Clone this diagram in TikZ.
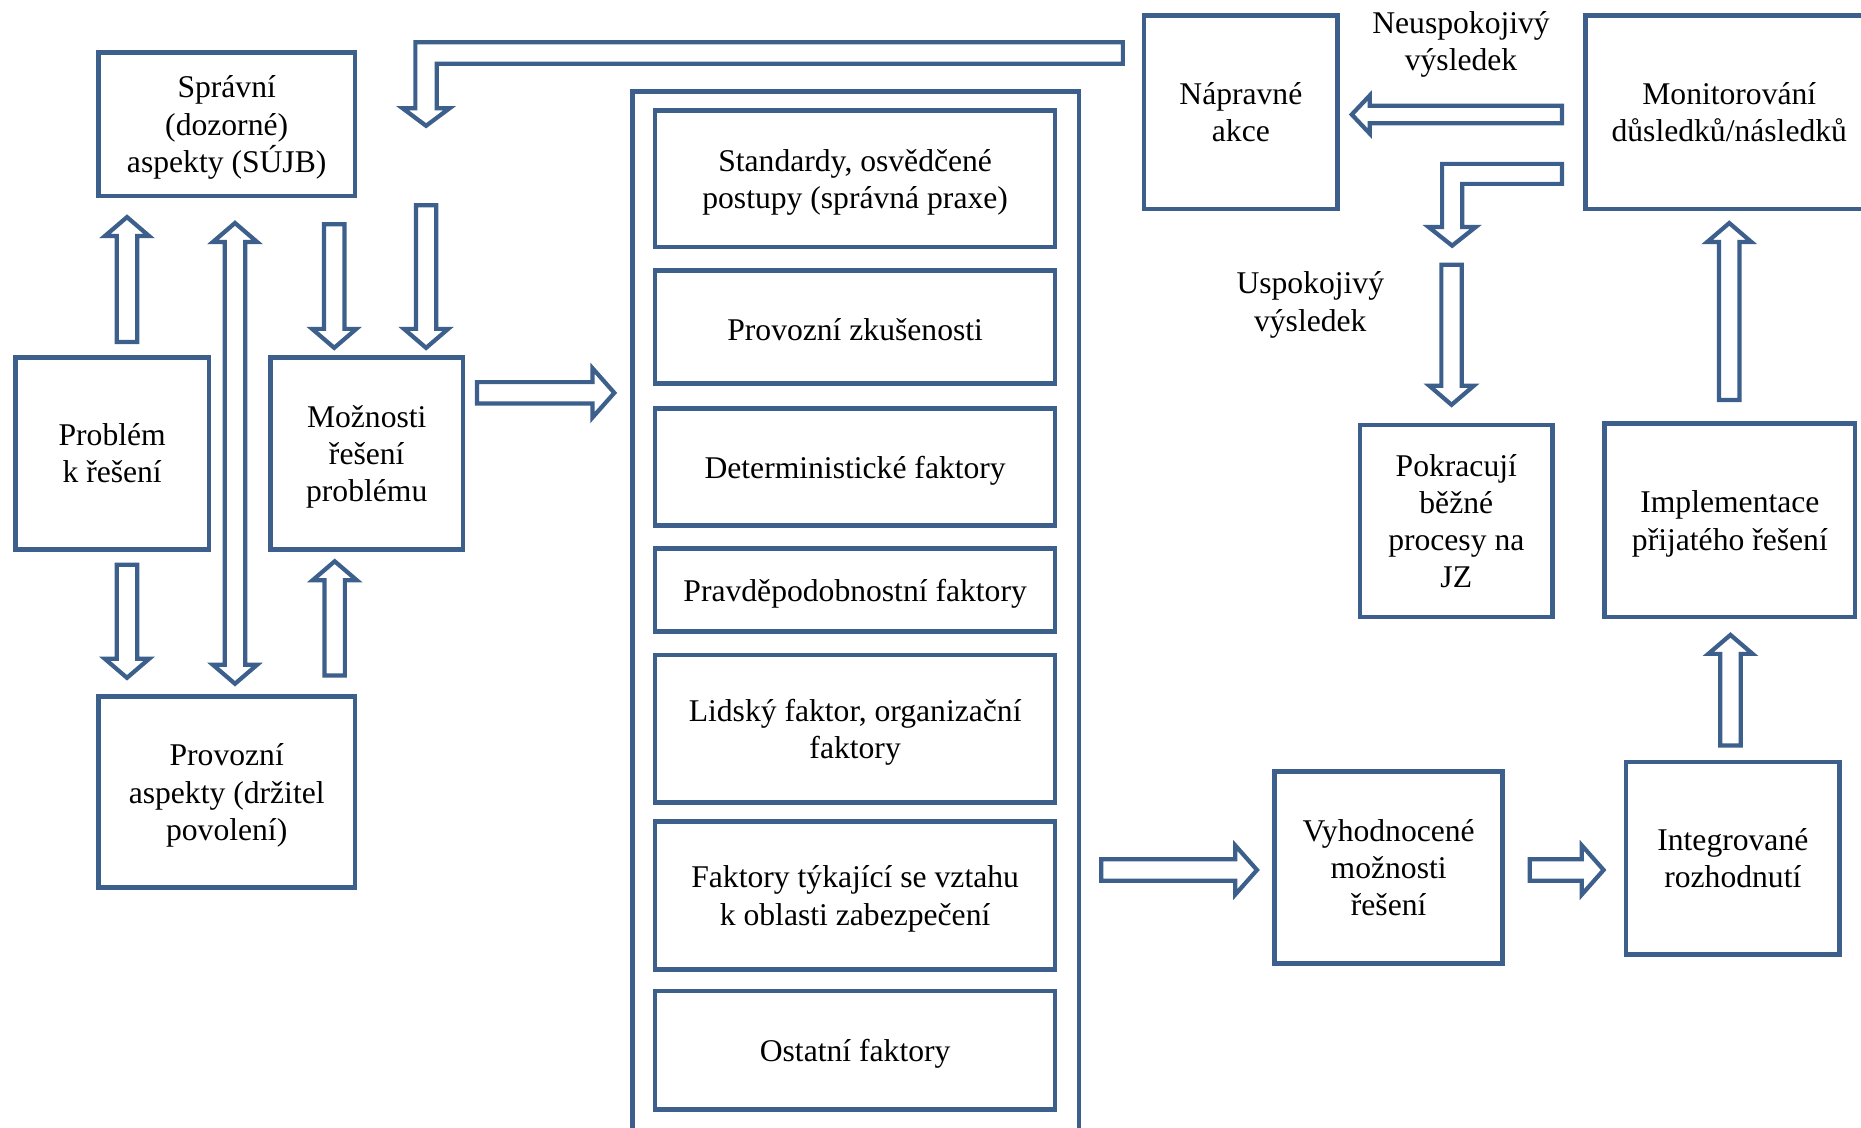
\documentclass[tikz,border=0pt]{standalone}
\usepackage{fontspec}
\setmainfont{Liberation Serif}
\usetikzlibrary{calc,positioning}
\definecolor{frame}{RGB}{60,95,140}
\tikzset{box/.style={draw=frame,line width=1.3pt,align=center,inner sep=0pt,font=\fontsize{9}{10.6}\selectfont},
	note/.style={align=center,inner sep=0pt,font=\fontsize{9}{10.6}\selectfont},
	low text/.style={text depth=0pt},
	arrow shaft/.store in=\ashaft, arrow head/.store in=\ahead, arrow len/.store in=\alen,
	arrow shaft=2.9pt, arrow head=6.3pt, arrow len=5.4pt,
	wide/.style={arrow shaft=3.05pt,arrow head=7pt,arrow len=6.2pt},
	slim/.style={arrow shaft=2.5pt,arrow head=5.4pt,arrow len=5.1pt},
	blk/.style={draw=frame,line width=1.2pt,fill=white,to path={
		let \p1=(\tikztostart), \p2=(\tikztotarget),
		\n1={veclen(\x2-\x1,\y2-\y1)}, \n2={(\x2-\x1)/\n1}, \n3={(\y2-\y1)/\n1} in
		({\x1-(\n3)*\ashaft},{\y1+(\n2)*\ashaft})
		-- ({\x2-(\n2)*\alen-(\n3)*\ashaft},{\y2-(\n3)*\alen+(\n2)*\ashaft})
		-- ({\x2-(\n2)*\alen-(\n3)*\ahead},{\y2-(\n3)*\alen+(\n2)*\ahead})
		-- (\p2)
		-- ({\x2-(\n2)*\alen+(\n3)*\ahead},{\y2-(\n3)*\alen-(\n2)*\ahead})
		-- ({\x2-(\n2)*\alen+(\n3)*\ashaft},{\y2-(\n3)*\alen-(\n2)*\ashaft})
		-- ({\x1+(\n3)*\ashaft},{\y1-(\n2)*\ashaft}) -- cycle}},
	blk2/.style={draw=frame,line width=1.2pt,fill=white,to path={
		let \p1=(\tikztostart), \p2=(\tikztotarget),
		\n1={veclen(\x2-\x1,\y2-\y1)}, \n2={(\x2-\x1)/\n1}, \n3={(\y2-\y1)/\n1} in
		(\p1)
		-- ({\x1+(\n2)*\alen-(\n3)*\ahead},{\y1+(\n3)*\alen+(\n2)*\ahead})
		-- ({\x1+(\n2)*\alen-(\n3)*\ashaft},{\y1+(\n3)*\alen+(\n2)*\ashaft})
		-- ({\x2-(\n2)*\alen-(\n3)*\ashaft},{\y2-(\n3)*\alen+(\n2)*\ashaft})
		-- ({\x2-(\n2)*\alen-(\n3)*\ahead},{\y2-(\n3)*\alen+(\n2)*\ahead})
		-- (\p2)
		-- ({\x2-(\n2)*\alen+(\n3)*\ahead},{\y2-(\n3)*\alen-(\n2)*\ahead})
		-- ({\x2-(\n2)*\alen+(\n3)*\ashaft},{\y2-(\n3)*\alen-(\n2)*\ashaft})
		-- ({\x1+(\n2)*\alen+(\n3)*\ashaft},{\y1+(\n3)*\alen-(\n2)*\ashaft})
		-- ({\x1+(\n2)*\alen+(\n3)*\ahead},{\y1+(\n3)*\alen-(\n2)*\ahead}) -- cycle}},
	blkbend/.style={draw=frame,line width=1.2pt,fill=white,to path={
		let \p1=(\tikztostart), \p2=(\tikztotarget) in
		(\x1,{\y1+\ashaft}) -- ({\x2-\ashaft},{\y1+\ashaft}) -- ({\x2-\ashaft},{\y2+\alen})
		-- ({\x2-\ahead},{\y2+\alen}) -- (\p2) -- ({\x2+\ahead},{\y2+\alen})
		-- ({\x2+\ashaft},{\y2+\alen}) -- ({\x2+\ashaft},{\y1-\ashaft}) -- (\x1,{\y1-\ashaft}) -- cycle}},
}
\begin{document}
\begin{tikzpicture}[x=0.011869cm,y=-0.011869cm]
	\useasboundingbox (0,0) rectangle (1568,950);
	\clip (0,0) rectangle (1568,950);
	
	% left part
	\node[box,low text,minimum width=2.564cm,minimum height=1.436cm] (spr) at (191,104.5) {Správní\\(dozorné)\\aspekty (SÚJB)};
	\node[box,minimum width=1.935cm,minimum height=1.923cm] (prob) at (94.5,382) {Problém\\k řešení};
	\node[box,low text,minimum width=1.923cm,minimum height=1.923cm] (mozn) at (309,382) {Možnosti\\řešení\\problému};
	\node[box,low text,minimum width=2.564cm,minimum height=1.911cm] (prov) at (191,667.5) {Provozní\\aspekty (držitel\\povolení)};
	
	% factors
	\node[box,minimum width=4.463cm,minimum height=10.599cm] (cont) at (721,523.5) {};
	\node[box,low text,minimum width=4cm,minimum height=1.365cm] (f1) at (720.5,150.5) {Standardy, osvědčené\\postupy (správná praxe)};
	\node[box,text height=7.5pt,minimum width=4cm,minimum height=1.128cm] (f2) at (720.5,275.5) {Provozní zkušenosti};
	\node[box,low text,minimum width=4cm,minimum height=1.175cm] (f3) at (720.5,393.5) {Deterministické faktory};
	\node[box,low text,minimum width=4cm,minimum height=0.831cm] (f4) at (720.5,497) {Pravděpodobnostní faktory};
	\node[box,low text,minimum width=4cm,minimum height=1.472cm] (f5) at (720.5,614) {Lidský faktor, organizační\\faktory};
	\node[box,low text,minimum width=4cm,minimum height=1.484cm] (f6) at (720.5,754.5) {Faktory týkající se vztahu\\k oblasti zabezpečení};
	\node[box,low text,minimum width=4cm,minimum height=1.187cm] (f7) at (720.5,885) {Ostatní faktory};
	
	% right part
	\node[box,minimum width=1.935cm,minimum height=1.935cm] (naprav) at (1045.5,94.5) {Nápravné\\akce};
	\node[box,minimum width=2.872cm,minimum height=1.935cm] (monit) at (1457,94.5) {Monitorování\\důsledků/následků};
	\node[box,minimum width=1.923cm,minimum height=1.923cm] (pokr) at (1227,439) {Pokracují\\běžné\\procesy na\\JZ};
	\node[box,low text,minimum width=2.504cm,minimum height=1.935cm] (impl) at (1457.5,438.5) {Implementace\\přijatého řešení};
	\node[box,minimum width=2.279cm,minimum height=1.923cm] (vyh) at (1170,731) {Vyhodnocené\\možnosti\\řešení};
	\node[box,minimum width=2.136cm,minimum height=1.923cm] (integ) at (1460,723) {Integrované\\rozhodnutí};
	\node[note,low text] (neusp) at (1231,34.5) {Neuspokojivý\\výsledek};
	\node[note,low text] (usp) at (1104,254) {Uspokojivý\\výsledek};
	
	\coordinate (backtip) at (359,106);
	\coordinate (backin) at (359,173);
	\coordinate (oktip) at (1223.5,207);
	\coordinate (okin) at (1223,223);
	
	% arrows
	\draw[blk] ($(prob.north)+(12.5,-11)$) to ($(spr.south)+(-84,16)$);
	\draw[blk2] ($(spr.south)+(7,21)$) to ($(prov.north)+(7,-9)$);
	\draw[blk] ($(spr.south)+(90.6,22)$) to ($(mozn.north)+(-27.4,-6)$);
	\draw[blk] (backin) to ($(mozn.north)+(50,-6)$);
	\draw[blk] ($(prob.south)+(12.5,11)$) to ($(prov.north)+(-84,-14)$);
	\draw[blk] ($(prov.north)+(91,-16)$) to ($(mozn.south)+(-27,8)$);
	\draw[blk,wide] ($(mozn.east)+(10,-51)$) to ($(cont.west)+(-13.5,-192.5)$);
	\draw[blkbend,arrow shaft=3.05pt,arrow head=6.7pt,arrow len=5pt] ($(naprav.west)+(-16,-49.8)$) to (backtip);
	\draw[blk,wide] ($(cont.east)+(17,209.5)$) to ($(vyh.west)+(-13,2)$);
	\draw[blk,wide] ($(vyh.east)+(21,2)$) to ($(integ.west)+(-17,10)$);
	\draw[blk] ($(integ.north)+(-2,-12)$) to ($(impl.south)+(0.5,13)$);
	\draw[blk] ($(impl.north)+(-0.5,-18)$) to ($(monit.south)+(0,10)$);
	\draw[blk,slim] ($(monit.west)+(-18,2)$) to ($(naprav.east)+(10,2)$);
	\draw[blkbend,arrow shaft=2.85pt,arrow head=6.7pt,arrow len=5.3pt] ($(monit.west)+(-18,52)$) to (oktip);
	\draw[blk] (okin) to ($(pokr.north)+(-4,-15)$);
\end{tikzpicture}
\end{document}
